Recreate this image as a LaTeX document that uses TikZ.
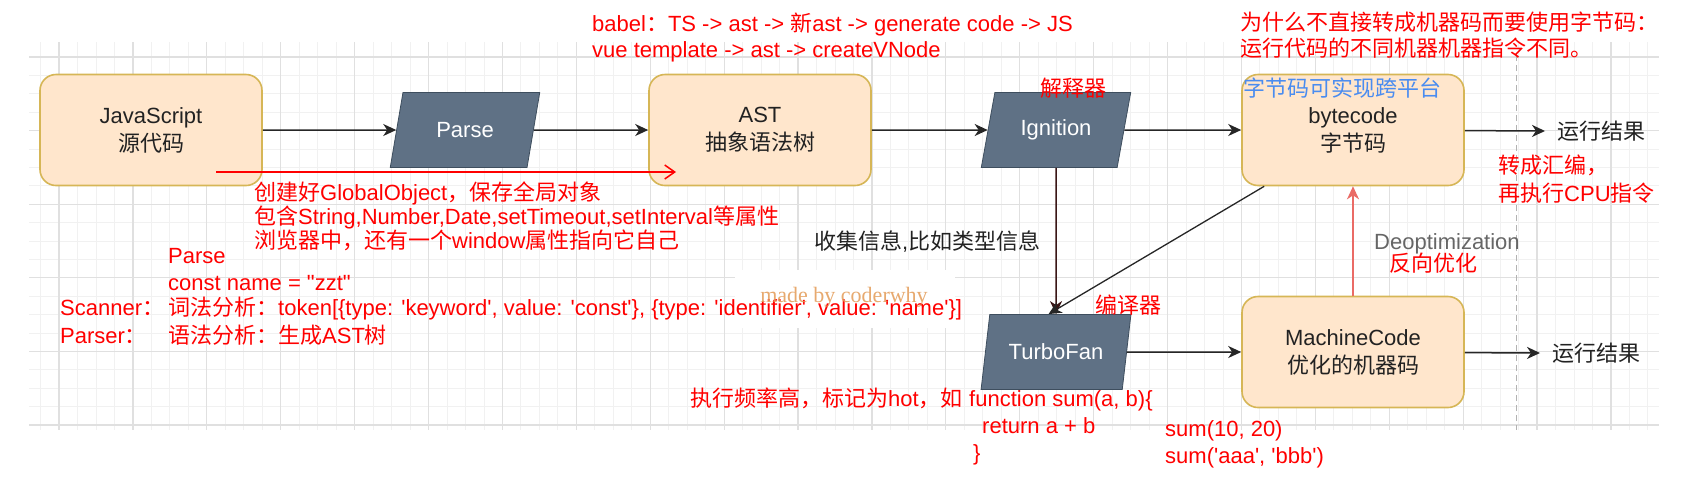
\documentclass[tikz,border=0pt]{standalone}
\usepackage{fontspec}
\newfontfamily\arial{Liberation Sans}
\newfontfamily\cjk{Noto Sans CJK SC}
\newfontfamily\tnr{Liberation Serif}
\usetikzlibrary{shapes.geometric,arrows.meta}
\newcommand\zh[1]{{\cjk #1}}
\definecolor{boxfill}{HTML}{FFE6CC}
\definecolor{boxline}{HTML}{D6B656}
\definecolor{parafill}{HTML}{5F7185}
\definecolor{paraline}{HTML}{3E4E5E}
\definecolor{gridmajor}{HTML}{E0E0E0}
\definecolor{gridminor}{HTML}{F1F1F1}
\definecolor{notered}{HTML}{FF0000}
\definecolor{noteblue}{HTML}{4A8CF0}
\definecolor{deored}{HTML}{EA6B66}
\definecolor{maroonline}{HTML}{3A1616}
\definecolor{wmorange}{HTML}{E39A55}
\definecolor{darktext}{HTML}{222222}
\definecolor{graytext}{HTML}{666666}
\begin{document}
\begin{tikzpicture}[x=1pt,y=-1pt,
  every node/.style={font=\arial\fontsize{22}{26}\selectfont},
  box/.style={draw=boxline, line width=1.6pt, fill=boxfill, rounded corners=16pt,
    minimum width=222pt, minimum height=111pt, align=center, text=darktext,
    font=\arial\fontsize{22}{28}\selectfont},
  para/.style={trapezium, trapezium left angle=69, trapezium right angle=111,
    trapezium stretches=true, minimum width=150pt, minimum height=75pt,
    fill=parafill, draw=paraline, line width=0.8pt, text=white, inner sep=0pt},
  flow/.style={draw=black!85, line width=1.5pt, -{Stealth[length=13pt,width=12pt,inset=4pt]}},
  darkflow/.style={flow, draw=maroonline},
  deo/.style={draw=deored, line width=1.8pt, -{Stealth[length=13pt,width=12pt,inset=4pt]}},
  redarrow/.style={draw=notered, line width=1.5pt, -{Straight Barb[length=10pt,width=14pt]}},
  note/.style={text=notered, anchor=west, inner sep=0pt, text height=20pt, text depth=4pt},
  plain/.style={text=darktext, anchor=west, inner sep=0pt, text height=20pt, text depth=4pt},
  wm/.style={text=wmorange, opacity=0.85, inner sep=0pt, font=\tnr\fontsize{22}{26}\selectfont}
]
\useasboundingbox (0,0) rectangle (1693,483);
\fill[white] (0,0) rectangle (1693,483);
% grid
\foreach \i in {0,...,87} \draw[gridminor, line width=0.8pt] ({40.525+18.475*\i},42) -- ({40.525+18.475*\i},430);
\foreach \i in {0,...,20} \draw[gridminor, line width=0.8pt] (29,{57+18.4*\i}) -- (1659,{57+18.4*\i});
\foreach \k in {0,...,21} \draw[gridmajor, line width=1.2pt] ({59+73.9*\k},42) -- ({59+73.9*\k},430);
\foreach \k in {0,...,5} \draw[gridmajor, line width=1.2pt] (29,{57+73.6*\k}) -- (1659,{57+73.6*\k});
\draw[gray!60, line width=1pt, dash pattern=on 6pt off 4pt] (1516,55) -- (1516,430);
\fill[white] (735,270) rectangle (955,328);

% main nodes
\node[box] (js) at (151,130) {JavaScript\\\zh{源代码}};
\node[para] (parse) at (465,130) {Parse};
\node[box] (ast) at (760,130) {AST\\\zh{抽象语法树}};
\node[para] (ign) at (1056,130) {Ignition};
\node[box] (bc) at (1353,130) {bytecode\\\zh{字节码}};
\node[para] (tf) at (1056,352) {TurboFan};
\node[box] (mc) at (1353,352) {MachineCode\\\zh{优化的机器码}};
\node[plain] (res1) at (1557,131) {\zh{运行结果}};
\node[plain] (res2) at (1552,353) {\zh{运行结果}};

% connectors
\draw[flow] (js) -- (parse);
\draw[flow] (parse) -- (ast);
\draw[flow] (ast) -- (ign);
\draw[flow] (ign) -- (bc);
\draw[flow] (bc) -- ([xshift=-12pt]res1.west);
\draw[darkflow] (ign) -- (tf);
\draw[flow, line width=1.3pt] ([xshift=23pt]bc.south west) -- ([xshift=-7.5pt]tf.north);
\draw[flow] (tf) -- (mc);
\draw[flow] (mc) -- ([xshift=-12pt]res2.west);
\draw[deo] (mc) -- (bc);
\coordinate (gs) at (216,172);
\coordinate (ge) at (676,172);
\draw[redarrow] (gs) -- (ge);

% annotations
\node[note] (n1) at (592,23) {babel\zh{：}TS -> ast -> \zh{新}ast -> generate code -> JS};
\node[note] (n2) at (592,49) {vue template -> ast -> createVNode};
\node[note] (n3) at (1240,22) {\zh{为什么不直接转成机器码而要使用字节码：}};
\node[note] (n4) at (1240,48) {\zh{运行代码的不同机器机器指令不同。}};
\node[note] (g1) at (254,192) {\zh{创建好}GlobalObject\zh{，保存全局对象}};
\node[note] (g2) at (254,216) {\zh{包含}String,Number,Date,setTimeout,setInterval\zh{等属性}};
\node[note] (g3) at (254,240) {\zh{浏览器中，还有一个}window\zh{属性指向它自己}};
\node[note] (p1) at (168,255) {Parse};
\node[note] (p2) at (168,282) {const name = "zzt"};
\node[note] (p3) at (168,307) {\zh{词法分析：}token[\{type: 'keyword', value: 'const'\}, \{type: 'identifier', value: 'name'\}]};
\node[note] (p4) at (168,335) {\zh{语法分析：生成}AST\zh{树}};
\node[note] (sc) at (60,307) {Scanner\zh{：}};
\node[note] (pr) at (60,335) {Parser\zh{：}};
\node[note] (jie) at (1040,88) {\zh{解释器}};
\node[note, text=noteblue] (kua) at (1243,88) {\zh{字节码可实现跨平台}};
\node[note] (hb1) at (1498,165) {\zh{转成汇编，}};
\node[note] (hb2) at (1498,193) {\zh{再执行}CPU\zh{指令}};
\node[plain] (collect) at (814,241) {\zh{收集信息},\zh{比如类型信息}};
\node[note, text=graytext] (deot) at (1374,241) {Deoptimization};
\node[note] (fx) at (1389,263) {\zh{反向优化}};
\node[note] (byq) at (1095,305) {\zh{编译器}};
\node[wm] (wmk) at (844,297) {made by coderwhy};
\node[note] (hot) at (690,398) {\zh{执行频率高，标记为}hot\zh{，如}};
\node[note] (f1) at (969,398) {function sum(a, b)\{};
\node[note] (f2) at (982,425) {return a + b};
\node[note] (f3) at (973,452) {\}};
\node[note] (s1) at (1165,428) {sum(10, 20)};
\node[note] (s2) at (1165,455) {sum('aaa', 'bbb')};
\end{tikzpicture}
\end{document}
